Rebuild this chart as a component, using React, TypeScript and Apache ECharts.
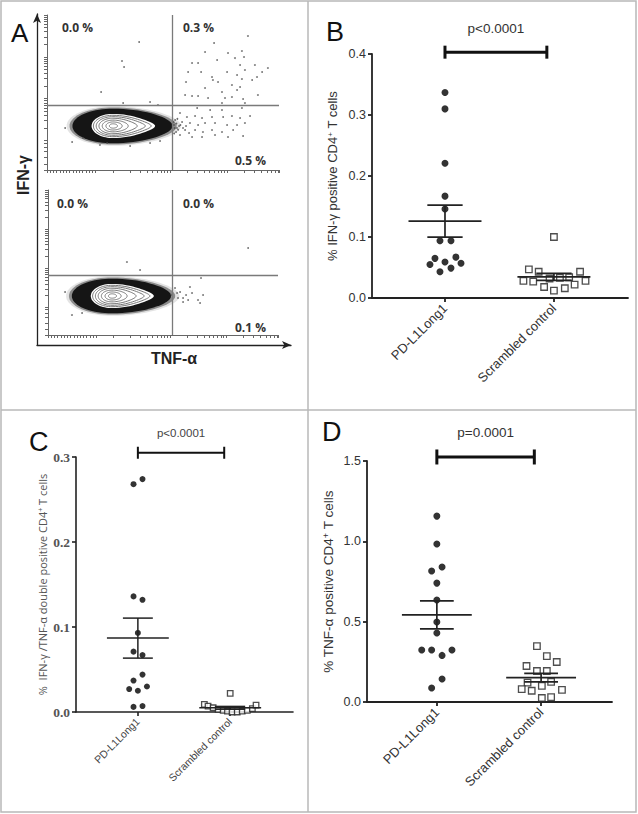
import React, { useEffect, useRef } from 'react';
import * as echarts from 'echarts';

const SANS = '"Liberation Sans", Arial, sans-serif';
const OPEN = '"Open Sans", "Liberation Sans", sans-serif';
const SERIF = '"Liberation Serif", "Times New Roman", serif';

// ---------------- shared categories ----------------
const categories = ['PD-L1Long1', 'Scrambled control'];

// ---------------- Panel B : % IFN-γ+ CD4+ ----------------
const bTicks = [0, 0.1, 0.2, 0.3, 0.4];
const bPdl1 = [0.337, 0.31, 0.221, 0.167, 0.146, 0.094, 0.094, 0.065, 0.059, 0.067, 0.055, 0.057, 0.043, 0.049];
const bPdl1Jitter = [0, 0, 0, 0, 0, -0.046, 0.055, -0.092, 0, 0.1, -0.138, 0.147, -0.046, 0.055];
const bScrambled = [0.1, 0.047, 0.043, 0.028, 0.027, 0.018, 0.032, 0.012, 0.033, 0.016, 0.034, 0.022, 0.043, 0.028];
const bScrambledJitter = [0, -0.23, -0.14, -0.28, -0.19, -0.09, -0.04, 0, 0.055, 0.1, 0.14, 0.19, 0.24, 0.29];

// ---------------- Panel C : % IFN-γ/TNF-α double+ ----------------
const cTicks = [0, 0.1, 0.2, 0.3];
const cPdl1 = [0.268, 0.274, 0.136, 0.132, 0.093, 0.071, 0.067, 0.044, 0.037, 0.027, 0.025, 0.03, 0.006, 0.007];
const cPdl1Jitter = [-0.047, 0.05, -0.047, 0.05, 0, -0.047, 0.05, 0.05, -0.047, -0.094, 0, 0.098, -0.047, 0.05];
const cScrambled = [0.022, 0.009, 0.007, 0.005, 0.003, 0.002, 0.001, 0.0, 0.0, 0.001, 0.002, 0.004, 0.008];
const cScrambledJitter = [0, -0.28, -0.24, -0.185, -0.13, -0.076, -0.03, 0.02, 0.076, 0.13, 0.185, 0.24, 0.28];

// ---------------- Panel D : % TNF-α+ CD4+ ----------------
const dTicks = [0, 0.5, 1.0, 1.5];
const dPdl1 = [1.157, 0.983, 0.815, 0.84, 0.74, 0.635, 0.498, 0.43, 0.324, 0.324, 0.324, 0.29, 0.143, 0.087];
const dPdl1Jitter = [0, 0, -0.05, 0.05, 0, 0, 0, 0, -0.145, -0.05, 0.145, 0.05, 0.05, -0.05];
const dScrambled = [0.348, 0.286, 0.249, 0.224, 0.193, 0.193, 0.12, 0.125, 0.1, 0.08, 0.07, 0.075, 0.025, 0.03];
const dScrambledJitter = [-0.04, 0.055, 0.15, -0.14, -0.04, 0.055, -0.13, 0.096, 0.007, -0.186, -0.09, 0.2, 0.007, 0.096];

const pValues = ['p<0.0001', 'p<0.0001', 'p=0.0001'];

// ---------------- Panel A : flow cytometry (channel units 0–1000) ----------------
const flowGateX = 540;
const flowGateY = 415;
const flowTopQuadrantLabels = ['0.0 %', '0.3 %', '0.5 %'];
const flowBottomQuadrantLabels = ['0.0 %', '0.0 %', '0.1 %'];
const flowXLinearTicks = [0, 14, 28, 42, 56, 70, 84, 98, 112, 126, 140, 154, 168, 182, 196, 210];
const flowXDecadeStarts = [284, 530, 776];
const flowYLinearTicks = [0, 40, 80, 120, 150, 175];
const flowYDecadeStarts = [190, 460, 730];

const flowTopEvents = [
  [866, 864], [720, 819], [780, 755], [840, 768], [681, 761], [733, 710], [810, 722], [849, 729], [625, 690], [651, 690],
  [832, 677], [896, 677], [952, 658], [608, 632], [664, 632], [776, 632], [853, 645], [927, 632], [711, 600], [819, 613],
  [840, 587], [884, 581], [599, 568], [715, 581], [737, 568], [905, 600], [681, 529], [797, 548], [832, 535], [754, 503],
  [819, 516], [595, 484], [625, 477], [651, 477], [694, 464], [767, 464], [797, 471], [845, 458], [909, 484], [754, 432],
  [853, 432],
  [647, 400], [703, 387], [754, 387], [840, 400], [573, 368], [603, 342], [638, 348], [668, 335], [711, 342], [759, 342],
  [797, 348], [832, 335], [875, 348], [552, 322], [582, 310], [616, 303], [651, 290], [681, 303], [724, 303], [776, 290],
  [819, 290], [853, 303], [560, 271], [595, 258], [638, 258], [672, 245], [711, 258], [754, 245], [802, 258], [573, 226],
  [625, 213], [668, 213], [724, 226], [780, 213], [845, 219], [547, 290], [556, 245], [569, 284], [586, 271], [599, 284],
  [612, 239], [545, 310], [550, 270], [558, 300], [565, 260], [575, 290], [548, 235], [562, 330],
  [397, 826], [323, 703], [332, 664], [233, 503], [328, 432], [444, 439], [478, 419],
  [108, 181], [78, 271], [228, 161], [259, 174], [155, 206], [444, 174], [487, 187], [358, 155],
];
const flowBottomEvents = [
  [343, 504], [400, 448], [74, 297], [104, 138], [148, 152], [870, 600], [665, 393], [574, 297], [600, 276], [617, 331],
  [626, 290], [674, 276], [661, 221], [652, 241], [587, 255], [561, 290], [539, 276], [565, 255], [552, 324], [609, 241],
  [587, 228],
];

// contour levels of the main population (relative to its centre)
const contourRxLeft = [15, 30, 46, 60, 72, 84];
const contourRxRight = [20, 40, 66, 105, 140, 165];
const contourRy = [14, 26, 38, 50, 60, 69];
const contourPinch = [0, 0, 0.1, 0.35, 0.45, 0.45];

function meanSem(vals: number[]) {
  const n = vals.length;
  const m = vals.reduce((a, b) => a + b, 0) / n;
  const sd = Math.sqrt(vals.reduce((a, b) => a + (b - m) * (b - m), 0) / (n - 1));
  return [m, sd / Math.sqrt(n)];
}

function decadeTicks(starts: number[], width: number) {
  const out: number[] = [];
  starts.forEach((s) => {
    for (let k = 1; k <= 9; k++) out.push(s + width * Math.log10(k));
  });
  return out;
}

function flowAxes(gi: number) {
  const xTicks = [...flowXLinearTicks, ...decadeTicks(flowXDecadeStarts, 245), 1000];
  const yTicks = [...flowYLinearTicks, ...decadeTicks(flowYDecadeStarts, 270), 1000];
  const common = {
    type: 'value', gridIndex: gi, min: 0, max: 1000,
    axisLine: { show: true, onZero: false, lineStyle: { color: '#666', width: 1 } },
    axisLabel: { show: false },
    splitLine: { show: false },
  };
  return {
    x: { ...common, axisTick: { show: true, customValues: xTicks, length: 3, lineStyle: { color: '#666', width: 1 } } },
    y: { ...common, axisTick: { show: true, customValues: yTicks, length: 3, lineStyle: { color: '#666', width: 1 } } },
  };
}

function flowSeries(gi: number, center: number[], yMul: number, events: number[][]) {
  const blob = {
    type: 'custom', xAxisIndex: gi, yAxisIndex: gi, silent: true, z: 1, clip: false,
    data: [center],
    renderItem: (params: any, api: any) => {
      const cx = api.value(0), cy = api.value(1);
      const egg = (rxL: number, rxR: number, ry: number, pinch: number) => {
        const pts: number[][] = [];
        const n = 72;
        for (let i = 0; i < n; i++) {
          const t = (i / n) * Math.PI * 2;
          const c = Math.cos(t), s = Math.sin(t);
          const rx = c >= 0 ? rxR : rxL;
          const sq = c > 0 ? 1 - pinch * c * c : 1;
          pts.push(api.coord([cx + rx * c, cy + ry * yMul * s * sq]));
        }
        return pts;
      };
      const children: any[] = [];
      const layers: [number, string][] = [[1.12, 'rgba(60,60,60,0.14)'], [1.05, 'rgba(30,30,30,0.45)'], [0.98, '#151515']];
      layers.forEach(([k, col]) => {
        children.push({ type: 'polygon', shape: { points: egg(178 * k, 262 * k, 114 * k, 0.12) }, style: { fill: col } });
      });
      children.push({ type: 'polygon', shape: { points: egg(92, 182, 78, 0.4) }, style: { fill: '#fff' } });
      contourRxLeft.forEach((_, i) => {
        children.push({
          type: 'polygon',
          shape: { points: egg(contourRxLeft[i], contourRxRight[i], contourRy[i], contourPinch[i]) },
          style: { fill: 'none', stroke: '#777', lineWidth: 1 },
        });
      });
      return { type: 'group', children };
    },
  };
  const dots = {
    type: 'scatter', xAxisIndex: gi, yAxisIndex: gi, silent: true, z: 2,
    symbol: 'circle', symbolSize: 1.8, itemStyle: { color: '#4a4a4a' },
    data: events,
    markLine: {
      silent: true, symbol: ['none', 'none'], label: { show: false },
      lineStyle: { color: '#7a7a7a', width: 1.3, type: 'solid' },
      data: [{ xAxis: flowGateX }, { yAxis: flowGateY }],
    },
  };
  return [blob, dots];
}

interface DotPanel {
  gi: number; ticks: number[]; pdl1: number[]; pdl1J: number[]; scr: number[]; scrJ: number[];
  sigY: number; pText: string; yName: string; nameGap: number; nameSize: number; nameFamily: string; nameColor: string;
  tickSize: number; tickFamily: string; tickWeight: string; tickColor: string; catSize: number; catColor: string;
  dot: number; sq: number; axisW: number; meanW: number; sigW: number; capH: number; pSize: number; pGap: number; pColor: string;
}

function dotPanel(p: DotPanel) {
  const yMax = p.ticks[p.ticks.length - 1];
  const interval = p.ticks[1] - p.ticks[0];
  const x = {
    type: 'value', gridIndex: p.gi, min: 0.33, max: 2.68,
    axisLine: { show: true, onZero: false, lineStyle: { color: '#222', width: p.axisW } },
    axisTick: { show: true, customValues: [1, 2], length: 4, lineStyle: { color: '#222', width: p.axisW } },
    axisLabel: {
      customValues: [1, 2], rotate: 45, margin: 8,
      formatter: (v: number) => categories[Math.round(v) - 1],
      fontSize: p.catSize, fontFamily: SANS, color: p.catColor,
    },
    splitLine: { show: false },
  };
  const y = {
    type: 'value', gridIndex: p.gi, min: 0, max: yMax, interval,
    axisLine: { show: true, onZero: false, lineStyle: { color: '#222', width: p.axisW } },
    axisTick: { show: true, length: 4, lineStyle: { color: '#222', width: p.axisW } },
    axisLabel: {
      margin: 6, formatter: (v: number) => v.toFixed(1),
      fontSize: p.tickSize, fontFamily: p.tickFamily, fontWeight: p.tickWeight, color: p.tickColor,
    },
    splitLine: { show: false },
    name: p.yName, nameLocation: 'middle', nameGap: p.nameGap,
    nameTextStyle: {
      fontSize: p.nameSize, fontFamily: p.nameFamily, color: p.nameColor,
      rich: { sup: { fontSize: Math.round(p.nameSize * 0.65), fontFamily: p.nameFamily, color: p.nameColor, verticalAlign: 'top' } },
    },
  };
  const [m1, s1] = meanSem(p.pdl1);
  const [m2, s2] = meanSem(p.scr);
  const series = [
    {
      type: 'scatter', xAxisIndex: p.gi, yAxisIndex: p.gi, clip: false, z: 2, silent: true,
      symbol: 'circle', symbolSize: p.dot, itemStyle: { color: '#000' },
      data: p.pdl1.map((v, i) => [1 + p.pdl1J[i], v]),
    },
    {
      type: 'scatter', xAxisIndex: p.gi, yAxisIndex: p.gi, clip: false, z: 2, silent: true,
      symbol: 'rect', symbolSize: p.sq, itemStyle: { color: '#fff', borderColor: '#222', borderWidth: 1.3 },
      data: p.scr.map((v, i) => [2 + p.scrJ[i], v]),
    },
    {
      type: 'custom', xAxisIndex: p.gi, yAxisIndex: p.gi, z: 3, silent: true, clip: false,
      data: [[1, m1, s1], [2, m2, s2]],
      renderItem: (params: any, api: any) => {
        const cx = api.value(0), m = api.value(1), s = api.value(2);
        const L = (a: number[], b: number[]) => ({
          type: 'line', shape: { x1: a[0], y1: a[1], x2: b[0], y2: b[1] }, style: { stroke: '#222', lineWidth: p.meanW },
        });
        return {
          type: 'group', children: [
            L(api.coord([cx - 0.335, m]), api.coord([cx + 0.335, m])),
            L(api.coord([cx - 0.162, m + s]), api.coord([cx + 0.162, m + s])),
            L(api.coord([cx - 0.162, m - s]), api.coord([cx + 0.162, m - s])),
            L(api.coord([cx, m - s]), api.coord([cx, m + s])),
          ],
        };
      },
    },
    {
      type: 'custom', xAxisIndex: p.gi, yAxisIndex: p.gi, z: 3, silent: true, clip: false,
      data: [[1, 1.935, p.sigY]],
      renderItem: (params: any, api: any) => {
        const a = api.coord([api.value(0), api.value(2)]);
        const b = api.coord([api.value(1), api.value(2)]);
        const st = { stroke: '#111', lineWidth: p.sigW };
        const h = p.capH / 2;
        return {
          type: 'group', children: [
            { type: 'line', shape: { x1: a[0], y1: a[1], x2: b[0], y2: b[1] }, style: st },
            { type: 'line', shape: { x1: a[0], y1: a[1] - h, x2: a[0], y2: a[1] + h }, style: st },
            { type: 'line', shape: { x1: b[0], y1: b[1] - h, x2: b[0], y2: b[1] + h }, style: st },
            {
              type: 'text', x: (a[0] + b[0]) / 2, y: a[1] - p.pGap,
              style: { text: p.pText, fontSize: p.pSize, fontFamily: SANS, fill: p.pColor, align: 'center', verticalAlign: 'middle' },
            },
          ],
        };
      },
    },
  ];
  return { x, y, series };
}

function buildOption() {
  const ft = flowAxes(0);
  const fb = flowAxes(1);
  const arrowAxis = (gi: number) => ({
    type: 'value', gridIndex: gi, min: 0, max: 1,
    axisLine: { show: true, onZero: false, symbol: ['none', 'arrow'], symbolSize: [6, 9], lineStyle: { color: '#222', width: 1.3 } },
    axisTick: { show: false }, axisLabel: { show: false }, splitLine: { show: false },
  });

  const B = dotPanel({
    gi: 3, ticks: bTicks, pdl1: bPdl1, pdl1J: bPdl1Jitter, scr: bScrambled, scrJ: bScrambledJitter,
    sigY: 0.403, pText: pValues[0], yName: '% IFN-γ positive CD4{sup|+} T cells', nameGap: 33, nameSize: 13,
    nameFamily: SANS, nameColor: '#333', tickSize: 12.5, tickFamily: SANS, tickWeight: 'normal', tickColor: '#333',
    catSize: 13, catColor: '#333', dot: 7, sq: 6.5, axisW: 1.8, meanW: 1.7, sigW: 3, capH: 13, pSize: 13.5, pGap: 24, pColor: '#333',
  });
  const C = dotPanel({
    gi: 4, ticks: cTicks, pdl1: cPdl1, pdl1J: cPdl1Jitter, scr: cScrambled, scrJ: cScrambledJitter,
    sigY: 0.305, pText: pValues[1], yName: '%  IFN-γ /TNF-α double positive CD4{sup|+} T cells', nameGap: 28, nameSize: 11,
    nameFamily: OPEN, nameColor: '#555', tickSize: 13.5, tickFamily: SERIF, tickWeight: 'bold', tickColor: '#555',
    catSize: 10.5, catColor: '#444', dot: 6, sq: 5.5, axisW: 1.6, meanW: 1.5, sigW: 2, capH: 12, pSize: 11.5, pGap: 20, pColor: '#444',
  });
  const D = dotPanel({
    gi: 5, ticks: dTicks, pdl1: dPdl1, pdl1J: dPdl1Jitter, scr: dScrambled, scrJ: dScrambledJitter,
    sigY: 1.525, pText: pValues[2], yName: '% TNF-α positive CD4{sup|+} T cells', nameGap: 32, nameSize: 13.5,
    nameFamily: SANS, nameColor: '#333', tickSize: 12.5, tickFamily: SANS, tickWeight: 'normal', tickColor: '#333',
    catSize: 13, catColor: '#333', dot: 7, sq: 6.5, axisW: 1.8, meanW: 1.7, sigW: 3, capH: 15, pSize: 13.5, pGap: 24, pColor: '#333',
  });

  const gridBase = { containLabel: false, outerBoundsMode: 'none', show: false };
  const txt = (text: string, x: number, y: number, size: number, extra: any = {}) => ({
    type: 'text', x, y, z: 10, silent: true,
    style: { text, fontSize: size, fontFamily: SANS, fill: '#111', align: 'left', verticalAlign: 'middle', ...extra },
  });
  const flowLabel = (text: string, x: number, y: number) =>
    txt(text, x, y, 12, { fontFamily: OPEN, fontWeight: 'bold', fill: '#333' });

  return {
    animation: false,
    backgroundColor: '#fff',
    grid: [
      { ...gridBase, left: 47, top: 15, width: 232, height: 155 },
      { ...gridBase, left: 48, top: 190, width: 230, height: 145 },
      { ...gridBase, left: 37, top: 14, width: 254, height: 331 },
      { ...gridBase, left: 372, top: 54, width: 256, height: 244 },
      { ...gridBase, left: 76, top: 457, width: 217, height: 255 },
      { ...gridBase, left: 367, top: 461, width: 245, height: 241 },
    ],
    xAxis: [ft.x, fb.x, arrowAxis(2), B.x, C.x, D.x],
    yAxis: [ft.y, fb.y, arrowAxis(2), B.y, C.y, D.y],
    series: [
      ...flowSeries(0, [284, 284], 1, flowTopEvents),
      ...flowSeries(1, [278, 269], 1.07, flowBottomEvents),
      ...B.series, ...C.series, ...D.series,
    ],
    graphic: [
      { type: 'rect', silent: true, shape: { x: 1, y: 1, width: 635, height: 811 }, style: { fill: 'none', stroke: '#b8b8b8', lineWidth: 1.5 } },
      { type: 'line', silent: true, shape: { x1: 308, y1: 1, x2: 308, y2: 812 }, style: { stroke: '#b8b8b8', lineWidth: 1.5 } },
      { type: 'line', silent: true, shape: { x1: 1, y1: 410, x2: 636, y2: 410 }, style: { stroke: '#b8b8b8', lineWidth: 1.5 } },
      txt('A', 11, 33, 26),
      txt('B', 326, 32, 27),
      txt('C', 29, 442, 27),
      txt('D', 322, 432, 27),
      flowLabel(flowTopQuadrantLabels[0], 62, 27),
      flowLabel(flowTopQuadrantLabels[1], 183, 27),
      flowLabel(flowTopQuadrantLabels[2], 235, 160),
      flowLabel(flowBottomQuadrantLabels[0], 57, 203),
      flowLabel(flowBottomQuadrantLabels[1], 183, 203),
      flowLabel(flowBottomQuadrantLabels[2], 235, 327),
      {
        type: 'text', x: 23, y: 175, rotation: Math.PI / 2, silent: true,
        style: { text: 'IFN-γ', fontSize: 16, fontWeight: 'bold', fontFamily: SANS, fill: '#222', align: 'center', verticalAlign: 'middle' },
      },
      {
        type: 'text', x: 174, y: 358, silent: true,
        style: { text: 'TNF-α', fontSize: 16, fontWeight: 'bold', fontFamily: SANS, fill: '#222', align: 'center', verticalAlign: 'middle' },
      },
    ],
  };
}

export default function App() {
  const ref = useRef<HTMLDivElement>(null);
  useEffect(() => {
    const chart = echarts.init(ref.current as HTMLDivElement, null, { renderer: 'svg' });
    chart.setOption(buildOption() as any);
    return () => chart.dispose();
  }, []);
  return (
    <div
      ref={ref}
      style={{ position: 'absolute', left: 0, top: 0, width: 638, height: 814, background: '#fff' }}
    />
  );
}
